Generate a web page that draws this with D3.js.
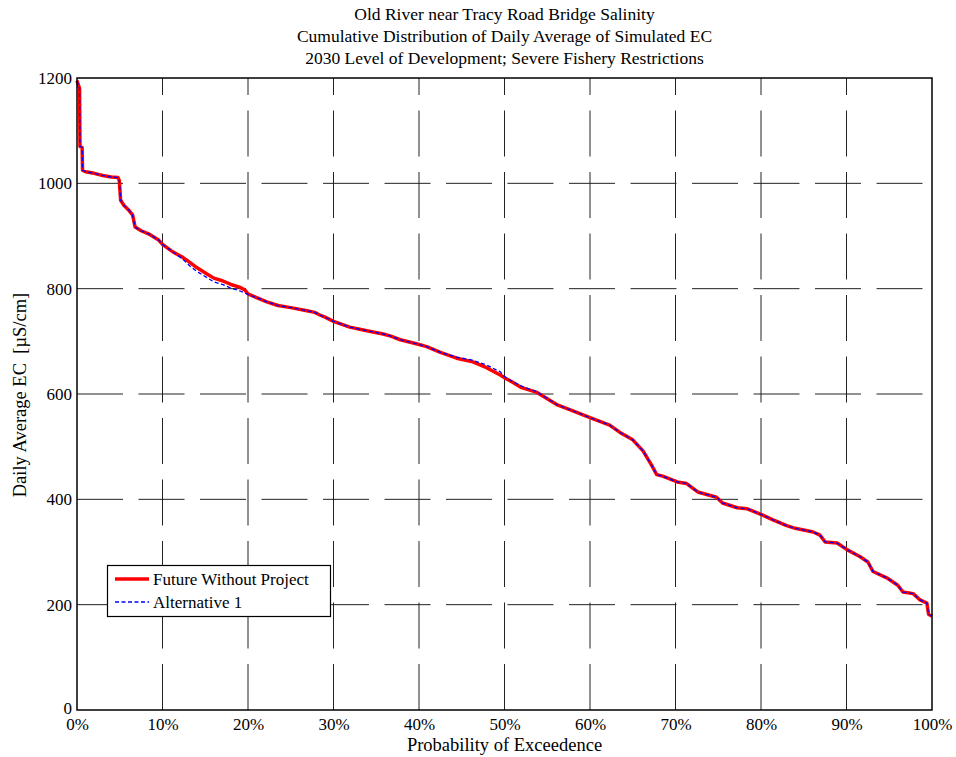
<!DOCTYPE html>
<html>
<head>
<meta charset="utf-8">
<script src="https://cdn.jsdelivr.net/npm/d3@7"></script>
<style>
  html, body { margin: 0; padding: 0; background: #fff; }
  svg text { font-family: "Liberation Serif", "Times New Roman", serif; fill: #000; }
</style>
</head>
<body>
<svg id="chart" width="956" height="757"></svg>
<script>
// ---- data ----
const titleLines = [
  "Old River near Tracy Road Bridge Salinity",
  "Cumulative Distribution of Daily Average of Simulated EC",
  "2030 Level of Development; Severe Fishery Restrictions"
];
const xLabel = "Probability of Exceedence";
const yLabel = "Daily Average EC  [\u00B5S/cm]";
const xTicks = [0, 10, 20, 30, 40, 50, 60, 70, 80, 90, 100];
const yTicks = [0, 200, 400, 600, 800, 1000, 1200];
const seriesNames = ["Future Without Project", "Alternative 1"];

// probability of exceedence (%)
const prob = [0, 0.1, 0.3, 0.35, 0.6, 0.65, 1.0, 2.0, 3.0, 4.0, 4.8, 4.95, 5.1, 5.5, 6.0, 6.5, 6.8, 7.5, 8.5, 9.5,
  10.0, 11.2, 12.3, 13.2, 14.0, 15.2, 16.0, 17.0, 18.0, 19.0, 19.6, 20.0, 21.0, 22.2, 23.5, 25.0, 26.9, 27.8, 28.4, 29.0,
  30.0, 31.9, 33.9, 35.8, 36.7, 37.8, 39.8, 40.9, 42.5, 44.4, 46.3, 47.9, 49.5, 50.1, 51.0, 52.0, 53.8, 56.1, 57.7, 60.0,
  62.3, 63.5, 65.0, 66.2, 67.2, 67.8, 68.5, 70.2, 71.3, 72.6, 74.8, 75.5, 77.2, 78.4, 80.2, 81.4, 83.0, 84.0, 86.1, 86.9,
  87.5, 88.9, 90.1, 91.6, 92.5, 93.1, 94.7, 96.0, 96.6, 97.8, 98.6, 99.4, 99.6, 100];

// Future Without Project (EC, uS/cm)
const fwop = [1195, 1190, 1180, 1070, 1068, 1025, 1022, 1019, 1015, 1012, 1011, 1005, 968, 958, 950, 940, 917, 910, 903, 893,
  884, 870, 860, 850, 840, 828, 820, 815, 808, 803, 798, 790, 783, 775, 768, 764, 758, 755, 750, 746,
  738, 727, 720, 714, 710, 703, 695, 690, 679, 668, 661, 650, 636, 630, 622, 612, 603, 580, 570, 555,
  541, 527, 513, 492, 465, 447, 444, 433, 430, 414, 404, 393, 384, 382, 370, 361, 350, 345, 338, 332,
  319, 317, 304, 291, 281, 263, 251, 237, 224, 221, 209, 203, 182, 178];

// Alternative 1 (EC, uS/cm)
const alt1 = [1195, 1190, 1180, 1070, 1068, 1025, 1022, 1019, 1015, 1012, 1011, 1005, 968, 958, 950, 940, 917, 910, 903, 893,
  884, 870, 857, 843, 833, 821, 813, 808, 801, 796, 792, 789, 783, 775, 768, 764, 758, 755, 750, 746,
  738, 727, 720, 714, 710, 703, 695, 690, 679, 670, 664, 655, 642, 632, 623, 615, 604, 580, 570, 555,
  541, 527, 513, 492, 465, 447, 444, 433, 430, 414, 404, 393, 384, 382, 370, 361, 350, 345, 338, 332,
  319, 317, 304, 291, 281, 263, 251, 237, 224, 221, 209, 203, 182, 178];

// ---- layout ----
const svg = d3.select("#chart");
const M = { left: 77, top: 78, right: 932, bottom: 710 };
const x = d3.scaleLinear().domain([0, 100]).range([M.left, M.right]);
const y = d3.scaleLinear().domain([0, 1200]).range([M.bottom, M.top]);
const FS = 17;
const FS_TITLE = 17.5;
const FS_LABEL = 18.5;

// grid
const grid = svg.append("g");
xTicks.filter(t => t > 0 && t < 100).forEach(t => {
  grid.append("line")
    .attr("x1", x(t)).attr("x2", x(t))
    .attr("y1", M.bottom).attr("y2", M.top)
    .attr("stroke", "#222").attr("stroke-width", 1)
    .attr("stroke-dasharray", "46,15.5");
});
yTicks.filter(t => t > 0 && t < 1200).forEach(t => {
  grid.append("line")
    .attr("x1", M.left).attr("x2", M.right)
    .attr("y1", y(t)).attr("y2", y(t))
    .attr("stroke", "#222").attr("stroke-width", 1)
    .attr("stroke-dasharray", "46,15.5");
});

// axes (tick labels via d3 axes)
const xAxis = d3.axisBottom(x).tickValues(xTicks).tickFormat(d => d + "%").tickSize(0).tickPadding(10);
const yAxis = d3.axisLeft(y).tickValues(yTicks).tickFormat(d3.format("d")).tickSize(0).tickPadding(5);
const gx = svg.append("g").attr("transform", `translate(0,${M.bottom})`).call(xAxis);
const gy = svg.append("g").attr("transform", `translate(${M.left},0)`).call(yAxis);
[gx, gy].forEach(g => {
  g.select(".domain").remove();
  g.selectAll("text").style("font-family", "Liberation Serif").style("font-size", FS + "px").attr("fill", "#000");
});
gx.selectAll("text").attr("dy", "0.6em");
gy.selectAll("text").filter(d => d === 0).attr("dy", "0.2em");

// data lines
const ptsA = prob.map((p, i) => [p, fwop[i]]);
const ptsB = prob.map((p, i) => [p, alt1[i]]);
const line = d3.line().x(d => x(d[0])).y(d => y(d[1]));
svg.append("path").datum(ptsA).attr("d", line)
  .attr("fill", "none").attr("stroke", "#ff0000").attr("stroke-width", 3.5).attr("stroke-linejoin", "round");
svg.append("path").datum(ptsB).attr("d", line)
  .attr("fill", "none").attr("stroke", "#0000ff").attr("stroke-width", 1.3).attr("stroke-dasharray", "4,2.5");

// box
svg.append("rect")
  .attr("x", M.left).attr("y", M.top)
  .attr("width", M.right - M.left).attr("height", M.bottom - M.top)
  .attr("fill", "none").attr("stroke", "#000").attr("stroke-width", 1.5);

// title
const cx = (M.left + M.right) / 2;
titleLines.forEach((t, i) => {
  svg.append("text").attr("x", cx).attr("y", 20 + i * 22)
    .attr("text-anchor", "middle").style("font-size", FS_TITLE + "px").text(t);
});

// axis labels
svg.append("text").attr("x", cx).attr("y", 751)
  .attr("text-anchor", "middle").style("font-size", FS_LABEL + "px").text(xLabel);
svg.append("text")
  .attr("transform", `translate(26,${395}) rotate(-90)`)
  .attr("text-anchor", "middle").style("font-size", FS_LABEL + "px")
  .style("white-space", "pre").text(yLabel);

// legend
const lg = svg.append("g");
lg.append("rect").attr("x", 107.5).attr("y", 565.5).attr("width", 223).attr("height", 51)
  .attr("fill", "#fff").attr("stroke", "#000").attr("stroke-width", 1.2);
const colors = ["#ff0000", "#0000ff"];
seriesNames.forEach((n, i) => {
  const yy = 579 + i * 23;
  lg.append("line").attr("x1", 115).attr("x2", 149).attr("y1", yy).attr("y2", yy)
    .attr("stroke", colors[i]).attr("stroke-width", i === 0 ? 3.5 : 1.3)
    .attr("stroke-dasharray", i === 0 ? null : "4,2.5");
  lg.append("text").attr("x", 153).attr("y", yy + 6).style("font-size", FS + "px").text(n);
});
</script>
</body>
</html>
